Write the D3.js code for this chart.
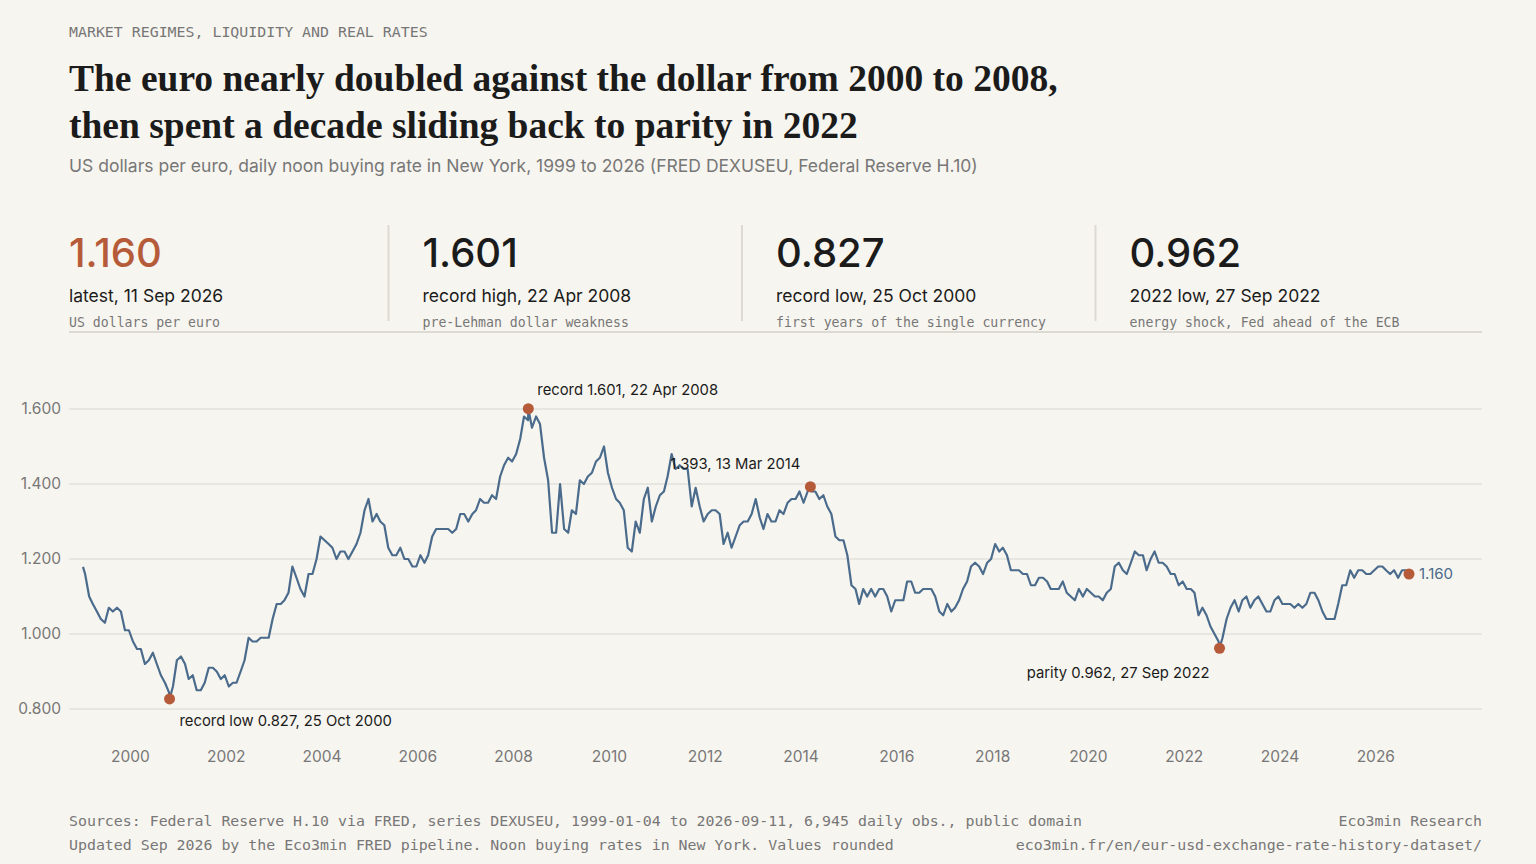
<!DOCTYPE html>
<html><head><meta charset="utf-8">
<script src="https://cdn.jsdelivr.net/npm/d3@7"></script>
<style>
body{margin:0;background:#f7f5ef;}
svg{display:block;}
.mono{font-family:"DejaVu Sans Mono","Liberation Mono",monospace;}
.sans{font-family:Inter,"Noto Sans",sans-serif;}
.serif{font-family:"Liberation Serif","DejaVu Serif",serif;}
</style></head><body>
<div id="chart"></div>
<script>
// Data (approximate month-end levels).
const firstYear = 1999;
const monthlyRates = [
  [1.160, 1.100, 1.080, 1.060, 1.040, 1.030, 1.070, 1.060, 1.070, 1.060, 1.010, 1.010],
  [0.980, 0.960, 0.960, 0.920, 0.930, 0.950, 0.920, 0.890, 0.870, 0.845, 0.860, 0.930],
  [0.940, 0.920, 0.880, 0.890, 0.850, 0.850, 0.870, 0.910, 0.910, 0.900, 0.880, 0.890],
  [0.860, 0.870, 0.870, 0.900, 0.930, 0.990, 0.980, 0.980, 0.990, 0.990, 0.990, 1.040],
  [1.080, 1.080, 1.090, 1.110, 1.180, 1.150, 1.120, 1.100, 1.160, 1.160, 1.200, 1.260],
  [1.250, 1.240, 1.230, 1.200, 1.220, 1.220, 1.200, 1.220, 1.240, 1.270, 1.330, 1.360],
  [1.300, 1.320, 1.300, 1.290, 1.230, 1.210, 1.210, 1.230, 1.200, 1.200, 1.180, 1.180],
  [1.210, 1.190, 1.210, 1.260, 1.280, 1.280, 1.280, 1.280, 1.270, 1.280, 1.320, 1.320],
  [1.300, 1.320, 1.330, 1.360, 1.350, 1.350, 1.370, 1.360, 1.420, 1.450, 1.470, 1.460],
  [1.480, 1.520, 1.580, 1.570, 1.550, 1.580, 1.560, 1.470, 1.410, 1.270, 1.270, 1.400],
  [1.280, 1.270, 1.330, 1.320, 1.410, 1.400, 1.420, 1.430, 1.460, 1.470, 1.500, 1.430],
  [1.390, 1.360, 1.350, 1.330, 1.230, 1.220, 1.300, 1.270, 1.360, 1.390, 1.300, 1.340],
  [1.370, 1.380, 1.420, 1.480, 1.440, 1.450, 1.440, 1.440, 1.340, 1.390, 1.340, 1.300],
  [1.320, 1.330, 1.330, 1.320, 1.240, 1.270, 1.230, 1.260, 1.290, 1.300, 1.300, 1.320],
  [1.360, 1.310, 1.280, 1.320, 1.300, 1.300, 1.330, 1.320, 1.350, 1.360, 1.360, 1.380],
  [1.350, 1.380, 1.380, 1.380, 1.360, 1.370, 1.340, 1.320, 1.260, 1.250, 1.250, 1.210],
  [1.130, 1.120, 1.080, 1.120, 1.100, 1.120, 1.100, 1.120, 1.120, 1.100, 1.060, 1.090],
  [1.090, 1.090, 1.140, 1.140, 1.110, 1.110, 1.120, 1.120, 1.120, 1.100, 1.060, 1.050],
  [1.080, 1.060, 1.070, 1.090, 1.120, 1.140, 1.180, 1.190, 1.180, 1.160, 1.190, 1.200],
  [1.240, 1.220, 1.230, 1.210, 1.170, 1.170, 1.170, 1.160, 1.160, 1.130, 1.130, 1.150],
  [1.150, 1.140, 1.120, 1.120, 1.120, 1.140, 1.110, 1.100, 1.090, 1.120, 1.100, 1.120],
  [1.110, 1.100, 1.100, 1.090, 1.110, 1.120, 1.180, 1.190, 1.170, 1.160, 1.190, 1.220],
  [1.210, 1.210, 1.170, 1.200, 1.220, 1.190, 1.190, 1.180, 1.160, 1.160, 1.130, 1.140],
  [1.120, 1.120, 1.110, 1.050, 1.070, 1.050, 1.020, 1.000, 0.980, 0.990, 1.040, 1.070],
  [1.090, 1.060, 1.090, 1.100, 1.070, 1.090, 1.100, 1.080, 1.060, 1.060, 1.090, 1.100],
  [1.080, 1.080, 1.080, 1.070, 1.080, 1.070, 1.080, 1.110, 1.110, 1.090, 1.060, 1.040],
  [1.040, 1.040, 1.080, 1.130, 1.130, 1.170, 1.150, 1.170, 1.170, 1.160, 1.160, 1.170],
  [1.180, 1.180, 1.170, 1.160, 1.170, 1.150, 1.170, 1.170]
];
const firstObs = {date: '1999-01-04', value: 1.179};
const lastObs = {date: '2026-09-11', value: 1.160};
const marked = [
  {date: '2000-10-25', value: 0.827, label: 'record low 0.827, 25 Oct 2000', dx: 10, dy: 27, anchor: 'start'},
  {date: '2008-04-22', value: 1.601, label: 'record 1.601, 22 Apr 2008', dx: 9, dy: -14, anchor: 'start'},
  {date: '2014-03-13', value: 1.393, label: '1.393, 13 Mar 2014', dx: -10, dy: -18, anchor: 'end'},
  {date: '2022-09-27', value: 0.962, label: 'parity 0.962, 27 Sep 2022', dx: -10, dy: 30, anchor: 'end'}
];
const yTicks = [0.8, 1.0, 1.2, 1.4, 1.6];
const xTickYears = [2000, 2002, 2004, 2006, 2008, 2010, 2012, 2014, 2016, 2018, 2020, 2022, 2024, 2026];
const kpis = [
  {value: '1.160', label: 'latest, 11 Sep 2026', note: 'US dollars per euro', accent: true},
  {value: '1.601', label: 'record high, 22 Apr 2008', note: 'pre-Lehman dollar weakness'},
  {value: '0.827', label: 'record low, 25 Oct 2000', note: 'first years of the single currency'},
  {value: '0.962', label: '2022 low, 27 Sep 2022', note: 'energy shock, Fed ahead of the ECB'}
];

const parse = d3.timeParse('%Y-%m-%d');
const accent = '#b65b3a', lineCol = '#4a6b8c', ink = '#1b1b1b', grey = '#777';

// Build the series.
let series = [{date: parse(firstObs.date), value: firstObs.value}];
monthlyRates.forEach((row, i) => row.forEach((v, m) => {
  series.push({date: new Date(firstYear + i, m, 20), value: v});
}));
marked.forEach(d => series.push({date: parse(d.date), value: d.value}));
series.push({date: parse(lastObs.date), value: lastObs.value});
series.sort((a, b) => a.date - b.date);

const W = 1536, H = 864;
const svg = d3.select('#chart').append('svg').attr('width', W).attr('height', H);
svg.append('rect').attr('width', W).attr('height', H).attr('fill', '#f7f5ef');

// Header.
svg.append('text').attr('class', 'mono').attr('x', 69).attr('y', 37)
  .attr('font-size', 14.9).attr('fill', grey).text('MARKET REGIMES, LIQUIDITY AND REAL RATES');
['The euro nearly doubled against the dollar from 2000 to 2008,',
 'then spent a decade sliding back to parity in 2022'].forEach((t, i) => {
  svg.append('text').attr('class', 'serif').attr('x', 69).attr('y', 91 + i * 47)
    .attr('font-size', 37.5).attr('font-weight', 'bold').attr('fill', ink).text(t);
});
svg.append('text').attr('class', 'sans').attr('x', 69).attr('y', 172)
  .attr('font-size', 17.5).attr('fill', grey)
  .text('US dollars per euro, daily noon buying rate in New York, 1999 to 2026 (FRED DEXUSEU, Federal Reserve H.10)');

// KPI strip.
const kpiX = d3.scaleBand().domain(d3.range(kpis.length)).range([69, 1483]);
kpis.forEach((k, i) => {
  const x = kpiX(i);
  if (i > 0) svg.append('line').attr('x1', x - 34).attr('x2', x - 34).attr('y1', 225).attr('y2', 321)
    .attr('stroke', '#dddad3').attr('stroke-width', 2);
  svg.append('text').attr('class', 'sans').attr('x', x).attr('y', 267).attr('font-size', 40)
    .attr('font-weight', 500).attr('fill', k.accent ? accent : ink).text(k.value);
  svg.append('text').attr('class', 'sans').attr('x', x).attr('y', 302).attr('font-size', 17.5)
    .attr('fill', ink).text(k.label);
  svg.append('text').attr('class', 'mono').attr('x', x).attr('y', 327).attr('font-size', 13.2)
    .attr('fill', grey).text(k.note);
});
svg.append('line').attr('x1', 69).attr('x2', 1482).attr('y1', 332).attr('y2', 332)
  .attr('stroke', '#dddad3').attr('stroke-width', 2);

// Scales.
const x = d3.scaleTime().domain([parse(firstObs.date), parse(lastObs.date)]).range([83, 1409]);
const y = d3.scaleLinear().domain([0.8, 1.6]).range([709, 409]);

// Grid + y labels.
const g = svg.append('g');
yTicks.forEach(t => {
  g.append('line').attr('x1', 69).attr('x2', 1482).attr('y1', y(t)).attr('y2', y(t))
    .attr('stroke', '#e3e1dc').attr('stroke-width', 1.5);
  g.append('text').attr('class', 'sans').attr('x', 61).attr('y', y(t)).attr('dy', '0.35em')
    .attr('text-anchor', 'end').attr('font-size', 15.5).attr('fill', grey).text(d3.format('.3f')(t));
});
xTickYears.forEach(yr => {
  g.append('text').attr('class', 'sans').attr('x', x(new Date(yr, 0, 1))).attr('y', 762)
    .attr('text-anchor', 'middle').attr('font-size', 15.5).attr('fill', grey).text(yr);
});

// Line.
svg.append('path').datum(series)
  .attr('d', d3.line().x(d => x(d.date)).y(d => y(d.value)))
  .attr('fill', 'none').attr('stroke', lineCol).attr('stroke-width', 2.2).attr('stroke-linejoin', 'round');

// Marked points.
marked.forEach(d => {
  const px = x(parse(d.date)), py = y(d.value);
  svg.append('circle').attr('cx', px).attr('cy', py).attr('r', 5.5).attr('fill', accent);
  svg.append('text').attr('class', 'sans').attr('x', px + d.dx).attr('y', py + d.dy)
    .attr('text-anchor', d.anchor).attr('font-size', 14.8).attr('fill', ink).text(d.label);
});
svg.append('circle').attr('cx', x(parse(lastObs.date))).attr('cy', y(lastObs.value)).attr('r', 5.5).attr('fill', accent);
svg.append('text').attr('class', 'sans').attr('x', x(parse(lastObs.date)) + 10).attr('y', y(lastObs.value))
  .attr('dy', '0.35em').attr('font-size', 15).attr('fill', lineCol).text('1.160');

// Footer.
[['Sources: Federal Reserve H.10 via FRED, series DEXUSEU, 1999-01-04 to 2026-09-11, 6,945 daily obs., public domain', 'Eco3min Research', 826],
 ['Updated Sep 2026 by the Eco3min FRED pipeline. Noon buying rates in New York. Values rounded', 'eco3min.fr/en/eur-usd-exchange-rate-history-dataset/', 850]]
  .forEach(([l, r, yy]) => {
    svg.append('text').attr('class', 'mono').attr('x', 69).attr('y', yy).attr('font-size', 14.9).attr('fill', grey).text(l);
    svg.append('text').attr('class', 'mono').attr('x', 1482).attr('y', yy).attr('text-anchor', 'end')
      .attr('font-size', 14.9).attr('fill', grey).text(r);
  });
</script>
</body></html>
